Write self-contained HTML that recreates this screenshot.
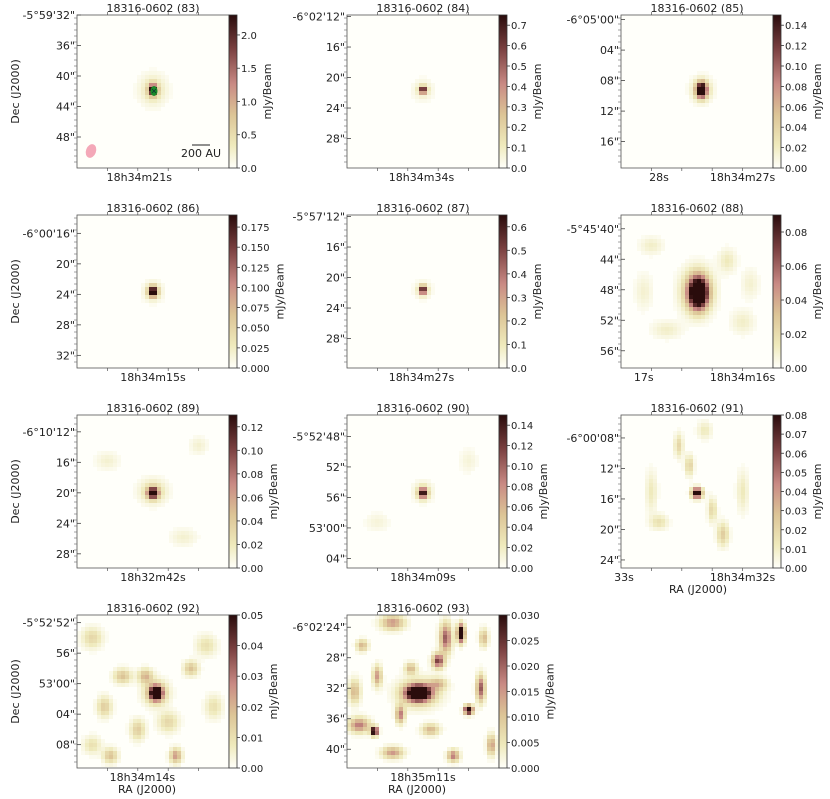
<!DOCTYPE html>
<html><head><meta charset="utf-8">
<style>
html,body{margin:0;padding:0;background:#fff;}
svg{display:block;font-family:"DejaVu Sans","Liberation Sans",sans-serif;}
</style></head>
<body>
<svg id="fig" width="830" height="799" viewBox="0 0 830 799" xmlns="http://www.w3.org/2000/svg">
<defs id="defs"></defs>
</svg>
<script>
// ---- data ----
const titles = ["18316-0602 (83)","18316-0602 (84)","18316-0602 (85)","18316-0602 (86)","18316-0602 (87)","18316-0602 (88)","18316-0602 (89)","18316-0602 (90)","18316-0602 (91)","18316-0602 (92)","18316-0602 (93)"];
const decTicks = [
 ["-5°59'32\"","36\"","40\"","44\"","48\""],
 ["-6°02'12\"","16\"","20\"","24\"","28\""],
 ["-6°05'00\"","04\"","08\"","12\"","16\""],
 ["-6°00'16\"","20\"","24\"","28\"","32\""],
 ["-5°57'12\"","16\"","20\"","24\"","28\""],
 ["-5°45'40\"","44\"","48\"","52\"","56\""],
 ["-6°10'12\"","16\"","20\"","24\"","28\""],
 ["-5°52'48\"","52\"","56\"","53'00\"","04\""],
 ["-6°00'08\"","12\"","16\"","20\"","24\""],
 ["-5°52'52\"","56\"","53'00\"","04\"","08\""],
 ["-6°02'24\"","28\"","32\"","36\"","40\""]
];
const decFirst = [0.0,0.01,0.03,0.12,0.01,0.09,0.11,0.14,0.15,0.05,0.08];
const raTicks = [
 [["18h34m21s",0.41]],[["18h34m34s",0.49]],[["28s",0.25],["18h34m27s",0.8]],
 [["18h34m15s",0.5]],[["18h34m27s",0.49]],[["17s",0.15],["18h34m16s",0.8]],
 [["18h32m42s",0.5]],[["18h34m09s",0.5]],[["33s",0.02],["18h34m32s",0.8]],
 [["18h34m14s",0.43]],[["18h35m11s",0.5]]
];
const cbTicks = [
 ["0.0","0.5","1.0","1.5","2.0"],
 ["0.0","0.1","0.2","0.3","0.4","0.5","0.6","0.7"],
 ["0.00","0.02","0.04","0.06","0.08","0.10","0.12","0.14"],
 ["0.000","0.025","0.050","0.075","0.100","0.125","0.150","0.175"],
 ["0.0","0.1","0.2","0.3","0.4","0.5","0.6"],
 ["0.00","0.02","0.04","0.06","0.08"],
 ["0.00","0.02","0.04","0.06","0.08","0.10","0.12"],
 ["0.00","0.02","0.04","0.06","0.08","0.10","0.12","0.14"],
 ["0.00","0.01","0.02","0.03","0.04","0.05","0.06","0.07","0.08"],
 ["0.00","0.01","0.02","0.03","0.04","0.05"],
 ["0.000","0.005","0.010","0.015","0.020","0.025","0.030"]
];
const cbMax = [2.3,0.75,0.15,0.19,0.65,0.09,0.13,0.15,0.08,0.05,0.03];
// emission components per panel: [xFrac, yFrac, peak (fraction of vmax), sigmaX px, sigmaY px]
const blobs = [
 [[0.5,0.49,0.2,9,10],[0.5,0.49,1.0,3,4]],
 [[0.5,0.49,0.12,7,7],[0.5,0.49,1.0,2.5,2.5]],
 [[0.53,0.49,0.25,7,8],[0.53,0.49,1.3,3.5,5]],
 [[0.5,0.5,0.15,7,7],[0.5,0.5,1.2,3,3.5]],
 [[0.5,0.49,0.12,6,6],[0.5,0.49,1.0,2.5,3]],
 [[0.2,0.2,0.12,8,6],[0.7,0.3,0.15,6,8],[0.3,0.75,0.12,10,6],[0.8,0.7,0.12,8,8],[0.15,0.5,0.1,6,12],[0.85,0.45,0.1,6,10],[0.5,0.5,0.55,10,14],[0.51,0.51,1.3,6,10]],
 [[0.5,0.5,0.25,9,8],[0.5,0.51,1.2,3.5,3.5],[0.2,0.3,0.1,8,6],[0.8,0.2,0.1,6,6],[0.7,0.8,0.1,9,6]],
 [[0.5,0.5,0.15,7,7],[0.5,0.51,1.0,3,3.5],[0.2,0.7,0.08,8,6],[0.8,0.3,0.08,6,8]],
 [[0.38,0.2,0.25,3,8],[0.45,0.33,0.28,3,7],[0.6,0.62,0.25,3,8],[0.67,0.78,0.3,4,8],[0.2,0.5,0.15,4,14],[0.8,0.5,0.15,4,14],[0.5,0.51,1.2,3.5,3.5],[0.25,0.7,0.2,6,5],[0.55,0.1,0.15,5,6]],
 [[0.1,0.15,0.25,7,7],[0.3,0.4,0.35,6,5],[0.45,0.4,0.4,5,5],[0.18,0.6,0.3,5,7],[0.75,0.35,0.35,5,5],[0.85,0.2,0.2,7,7],[0.4,0.75,0.3,5,7],[0.65,0.92,0.5,4,5],[0.22,0.92,0.35,5,5],[0.6,0.7,0.25,7,7],[0.52,0.51,0.45,8,8],[0.52,0.51,1.3,4,4.5],[0.1,0.85,0.2,6,6],[0.9,0.6,0.2,6,8]],
 [[0.3,0.05,0.5,8,5],[0.65,0.15,0.7,4,10],[0.75,0.12,1.3,2.5,6],[0.6,0.3,0.8,4,5],[0.2,0.4,0.5,3,7],[0.42,0.35,0.4,4,4],[0.47,0.51,1.3,8,5],[0.47,0.51,0.5,13,9],[0.88,0.48,0.7,3,9],[0.8,0.62,1.3,3,3],[0.08,0.72,0.6,7,5],[0.18,0.76,1.3,2.5,3],[0.35,0.65,0.6,3,6],[0.7,0.92,0.6,4,4],[0.3,0.9,0.5,7,4],[0.95,0.85,0.5,3,7],[0.1,0.2,0.4,4,4],[0.9,0.15,0.4,3,6],[0.55,0.75,0.4,6,4],[0.05,0.5,0.4,4,8],[0.6,0.45,0.35,6,4]]
];
// ---- layout ----
const colX = [77,347,621], rowY = [15,215,415,615], W=152, H=153, CBW=8, CELL=4;
const svg = document.getElementById('fig'), defs = document.getElementById('defs');
const NS = "http://www.w3.org/2000/svg";
function mk(tag, attrs, parent){const e=document.createElementNS(NS,tag);for(const k in attrs)e.setAttribute(k,attrs[k]);(parent||svg).appendChild(e);return e;}
const cmapStops=[[0,"#fffffa"],[0.15,"#efeabc"],[0.35,"#dcc496"],[0.55,"#c98a84"],[0.78,"#7a4040"],[1,"#2a0c0c"]];
function hex(c){return [1,3,5].map(i=>parseInt(c.substr(i,2),16));}
function cmap(v){v=Math.max(0,Math.min(1,v));for(let i=1;i<cmapStops.length;i++){if(v<=cmapStops[i][0]){const a=cmapStops[i-1],b=cmapStops[i];const t=(v-a[0])/(b[0]-a[0]);const ca=hex(a[1]),cb=hex(b[1]);return "rgb("+ca.map((x,j)=>Math.round(x+(cb[j]-x)*t)).join(",")+")";}}return cmapStops[5][1];}
const lg=mk('linearGradient',{id:'cbg',x1:0,y1:1,x2:0,y2:0},defs);
cmapStops.forEach(s=>mk('stop',{offset:s[0],'stop-color':s[1]},lg));
function txt(x,y,s,attrs,parent){const t=mk('text',Object.assign({x:x,y:y,'font-size':11,fill:'#222'},attrs||{}),parent);t.textContent=s;return t;}

titles.forEach((title,p)=>{
  const c=p%3, r=Math.floor(p/3), x0=colX[c], y0=rowY[r];
  const g=mk('g',{});
  
  
  const bg=mk('rect',{x:x0,y:y0,width:W,height:H,fill:'#fffffa'},g);
  
  
  const ig=mk('g',{'shape-rendering':'crispEdges'},g);
  for(let yy=0;yy<H;yy+=CELL){
    for(let xx=0;xx<W;xx+=CELL){
      const px=xx+CELL/2, py=yy+CELL/2;
      let v=0;
      blobs[p].forEach(b=>{const dx=px-b[0]*W, dy=py-b[1]*H; v+=b[2]*Math.exp(-(dx*dx/(2*b[3]*b[3])+dy*dy/(2*b[4]*b[4])));});
      if(v<0.02) continue;
      const cell=mk('rect',{x:x0+xx,y:y0+yy,width:Math.min(CELL,W-xx),height:Math.min(CELL,H-yy),fill:cmap(v)},ig);
      
      
    }
  }
  mk('rect',{x:x0,y:y0,width:W,height:H,fill:'none',stroke:'#555','stroke-width':0.8},g);
  const tt=txt(x0+W/2,y0-3,title,{'text-anchor':'middle','font-size':11},g);
  
  
  const step=30.5;
  decTicks[p].forEach((s,i)=>{
    const yy=y0+decFirst[p]*H+i*step;
    mk('line',{x1:x0,x2:x0+4,y1:yy,y2:yy,stroke:'#444','stroke-width':0.8},g);
    const t=txt(x0-2,yy+4,s,{'text-anchor':'end','font-size':11},g);
    
    
  });
  for(let yy=y0+3;yy<y0+H;yy+=6) mk('line',{x1:x0-3,x2:x0,y1:yy,y2:yy,stroke:'#666','stroke-width':0.6},g);
  for(let k=1;k<5;k++){const xx=x0+k*W/5;mk('line',{x1:xx,x2:xx,y1:y0+H,y2:y0+H+3,stroke:'#555','stroke-width':0.7},g);mk('line',{x1:xx,x2:xx,y1:y0-3,y2:y0,stroke:'#555','stroke-width':0.7},g);}
  raTicks[p].forEach(rt=>{
    const t=txt(x0+rt[1]*W,y0+H+13,rt[0],{'text-anchor':'middle','font-size':11},g);
    
    
  });
  const cx=x0+W;
  const cb=mk('rect',{x:cx,y:y0,width:CBW,height:H,fill:'url(#cbg)',stroke:'#333','stroke-width':0.8},g);
  
  
  let maxLen=0;
  cbTicks[p].forEach(s=>{
    maxLen=Math.max(maxLen,s.length);
    const v=parseFloat(s); const yy=y0+H-(v/cbMax[p])*H;
    mk('line',{x1:cx+CBW,x2:cx+CBW+3,y1:yy,y2:yy,stroke:'#333','stroke-width':0.8},g);
    const t=txt(cx+CBW+4,yy+4,s,{'font-size':10},g);
    
    
  });
  const lx=cx+CBW+4+maxLen*6.3+11;
  const cl=txt(lx,y0+H/2,'mJy/Beam',{'text-anchor':'middle','font-size':11,transform:'rotate(-90 '+lx+' '+(y0+H/2)+')'},g);
  
  
  if(c==0){
    const dl=txt(19,y0+H/2,'Dec (J2000)',{'text-anchor':'middle','font-size':11,transform:'rotate(-90 19 '+(y0+H/2)+')'},g);
    
    
  }
  if(p>=8){
    const rl=txt(x0+W/2+(p==8?1:-6),y0+H+25,'RA (J2000)',{'text-anchor':'middle','font-size':11},g);
    
    
  }
});
const ex=mk('g',{});


const gr=mk('ellipse',{cx:154,cy:91,rx:3.5,ry:5,fill:'#1a8a2a'},ex);


mk('path',{d:'M152 89 L156 93 M156 89 L152 93',stroke:'#133','stroke-width':0.8},ex);
const bm=mk('ellipse',{cx:91,cy:151,rx:5,ry:7,fill:'#f4a8b8',transform:'rotate(20 91 151)'},ex);


mk('line',{x1:192,x2:210,y1:145,y2:145,stroke:'#222','stroke-width':1},ex);
const sb=txt(201,157,'200 AU',{'text-anchor':'middle','font-size':11},ex);


</script>
</body></html>
